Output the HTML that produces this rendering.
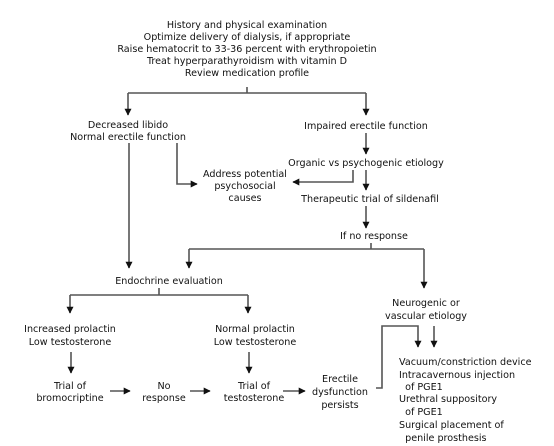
<!DOCTYPE html>
<html><head><meta charset="utf-8"><style>
html,body{margin:0;padding:0;background:#fff;}
svg{display:block;}
text{font-family:"DejaVu Sans","Liberation Sans",sans-serif;font-size:9.6px;fill:#111;}
.c{text-anchor:middle;}
.l{fill:none;stroke:#555;stroke-width:1.6;}
</style></head><body>
<svg width="554" height="446" viewBox="0 0 554 446" xmlns="http://www.w3.org/2000/svg">
<defs><marker id="a" viewBox="0 0 10 10" refX="9" refY="5" markerWidth="7" markerHeight="7" markerUnits="userSpaceOnUse" orient="auto"><path d="M0,0 L10,5 L0,10 z" fill="#111"/></marker></defs>
<g class="c">
<text x="247" y="28">History and physical examination</text>
<text x="247" y="40">Optimize delivery of dialysis, if appropriate</text>
<text x="247" y="52">Raise hematocrit to 33-36 percent with erythropoietin</text>
<text x="247" y="64">Treat hyperparathyroidism with vitamin D</text>
<text x="247" y="76">Review medication profile</text>
<text x="128" y="128">Decreased libido</text>
<text x="128" y="140">Normal erectile function</text>
<text x="366" y="129">Impaired erectile function</text>
<text x="366" y="166">Organic vs psychogenic etiology</text>
<text x="245" y="177">Address potential</text>
<text x="245" y="189">psychosocial</text>
<text x="245" y="201">causes</text>
<text x="370" y="202">Therapeutic trial of sildenafil</text>
<text x="374" y="239">If no response</text>
<text x="169" y="284">Endochrine evaluation</text>
<text x="70" y="332">Increased prolactin</text>
<text x="70" y="345">Low testosterone</text>
<text x="255" y="332">Normal prolactin</text>
<text x="255" y="345">Low testosterone</text>
<text x="426" y="306">Neurogenic or</text>
<text x="426" y="319">vascular etiology</text>
<text x="70" y="389">Trial of</text>
<text x="70" y="401">bromocriptine</text>
<text x="164" y="389">No</text>
<text x="164" y="401">response</text>
<text x="254" y="389">Trial of</text>
<text x="254" y="401">testosterone</text>
<text x="340" y="382">Erectile</text>
<text x="340" y="395">dysfunction</text>
<text x="340" y="408">persists</text>
</g>
<text x="399" y="365">Vacuum/constriction device</text>
<text x="399" y="378">Intracavernous injection</text>
<text x="399" y="390">&#160;&#160;of PGE1</text>
<text x="399" y="402">Urethral suppository</text>
<text x="399" y="415">&#160;&#160;of PGE1</text>
<text x="399" y="428">Surgical placement of</text>
<text x="399" y="441">&#160;&#160;penile prosthesis</text>

<path class="l" d="M247,87 V93 M128,93 H366"/>
<path class="l" d="M128,93 V115" marker-end="url(#a)"/>
<path class="l" d="M366,93 V115" marker-end="url(#a)"/>
<path class="l" d="M366,133 V154" marker-end="url(#a)"/>
<path class="l" d="M353,170 V182 H293" marker-end="url(#a)"/>
<path class="l" d="M177,143 V184 H197" marker-end="url(#a)"/>
<path class="l" d="M366,170 V190" marker-end="url(#a)"/>
<path class="l" d="M366,206 V228" marker-end="url(#a)"/>
<path class="l" d="M129,143 V268" marker-end="url(#a)"/>
<path class="l" d="M371,243 V249 M189,249 H424"/>
<path class="l" d="M189,249 V268" marker-end="url(#a)"/>
<path class="l" d="M424,249 V288" marker-end="url(#a)"/>
<path class="l" d="M159,288 V295 M70,295 H248"/>
<path class="l" d="M70,295 V313" marker-end="url(#a)"/>
<path class="l" d="M248,295 V313" marker-end="url(#a)"/>
<path class="l" d="M71,352 V373" marker-end="url(#a)"/>
<path class="l" d="M249,352 V373" marker-end="url(#a)"/>
<path class="l" d="M110,391 H130" marker-end="url(#a)"/>
<path class="l" d="M190,391 H210" marker-end="url(#a)"/>
<path class="l" d="M283,391 H305" marker-end="url(#a)"/>
<path class="l" d="M376,388 H382 V326 H418 V347" marker-end="url(#a)"/>
<path class="l" d="M434,326 V347" marker-end="url(#a)"/>
</svg>
</body></html>
